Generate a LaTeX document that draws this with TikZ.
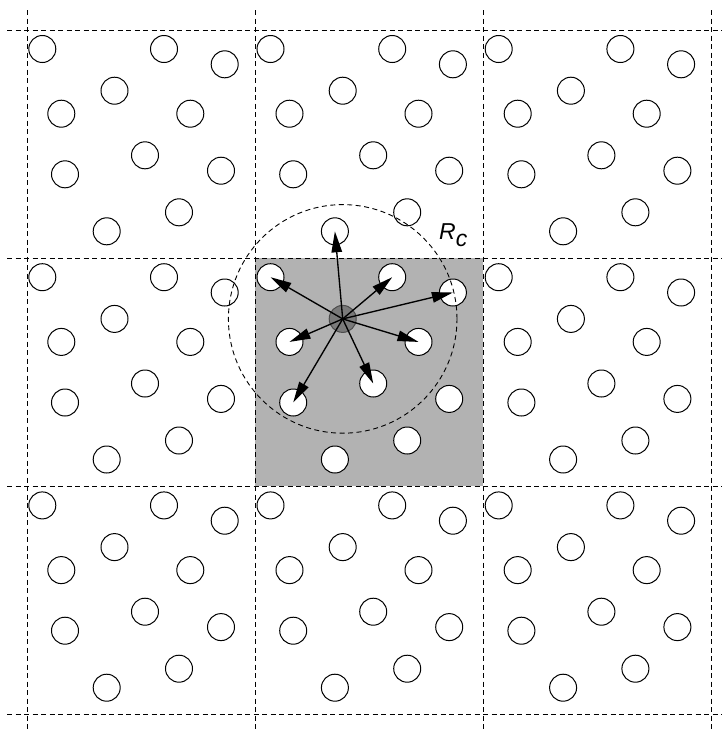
\documentclass[tikz,border=0pt]{standalone}
\usepackage{fontspec}
\setmainfont{Liberation Sans}
\usetikzlibrary{arrows.meta}
\begin{document}
\begin{tikzpicture}[x=1pt,y=-1pt,
  particle/.style={circle,draw=black,line width=1pt,fill=white,minimum size=27pt,inner sep=0pt},
  centre/.style={particle,fill=black!52,draw=black!70},
  gridline/.style={dash pattern=on 5pt off 3.5pt,line width=0.9pt},
  cutoff/.style={dash pattern=on 5pt off 3.5pt,line width=0.9pt},
  force/.style={line width=1.35pt,-{Triangle[length=21pt,width=10.5pt]}}]
\useasboundingbox (0,0) rectangle (722,729);
% shaded central cell
\fill[black!30] (255.2,258.2) rectangle (483.4,486.4);
% periodic cell boundaries
\foreach \k in {0,1,2,3}{
  \draw[gridline] (7,{30+228.2*\k}) -- (722,{30+228.2*\k});
  \draw[gridline] ({27+228.2*\k},10) -- ({27+228.2*\k},729);
}
% particles (same pattern in every image cell)
\foreach \cx in {0,1,2}{
  \foreach \cy in {0,1,2}{
    \foreach \px/\py [count=\n] in {15.3/19, 137/19, 197.7/34.3, 87.5/60.7, 34.3/83.7,
        163.3/83.7, 118/125.3, 194/140.7, 38/144.3, 152/182.3, 79.7/201.3}{
      \ifnum\numexpr 1000*\cx+100*\cy+\n\relax=1104 \def\sty{centre}\else\def\sty{particle}\fi
      \node[\sty] (p-\cx-\cy-\n) at ({27+228.2*\cx+\px},{30+228.2*\cy+\py}) {};
    }
  }
}
% cut-off sphere
\draw[cutoff] (p-1-1-4.center) circle[radius=114.3pt];
\node[anchor=base west,inner sep=0pt,font=\fontsize{23}{23}\selectfont\itshape] (rc) at (439,239) {R\raisebox{-7.5pt}{c}};
% interactions
\foreach \t in {p-1-0-11,p-1-1-1,p-1-1-2,p-1-1-3,p-1-1-5,p-1-1-6,p-1-1-7,p-1-1-9}{
  \draw[force] (p-1-1-4.center) -- (\t.center);
}
\end{tikzpicture}
\end{document}
